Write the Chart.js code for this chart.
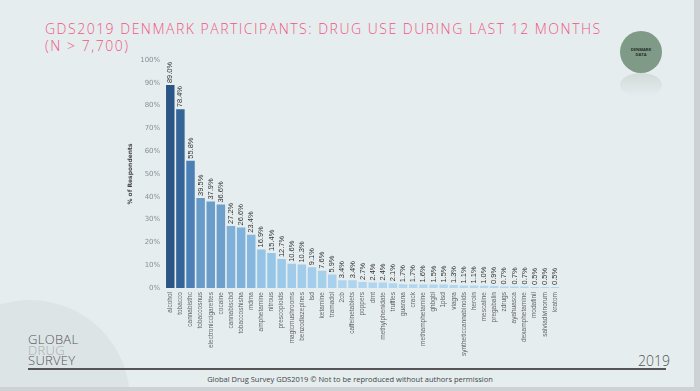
<!DOCTYPE html>
<html><head><meta charset="utf-8">
<script src="https://cdn.jsdelivr.net/npm/chart.js@4"></script>
<style>
html,body{margin:0;padding:0;}
body{width:700px;height:391px;background:#e5edef;position:relative;overflow:hidden;font-family:"Open Sans",sans-serif;}
#wrap{position:absolute;left:0;top:0;width:700px;height:391px;}
.title{position:absolute;left:45px;top:20px;color:#f2557f;font-size:14px;font-weight:300;letter-spacing:1.5px;line-height:17px;}
.badge{position:absolute;left:620px;top:31px;width:42px;height:42px;border-radius:50%;background:#7f9a87;color:#1f2b24;font-size:4px;font-weight:700;text-align:center;display:flex;align-items:center;justify-content:center;line-height:5px;}
.refl{position:absolute;left:620px;top:73px;width:42px;height:24px;border-radius:50%;background:linear-gradient(#c9d3cf,rgba(229,237,239,0));opacity:.7;}
.bigc{position:absolute;left:-70px;top:300px;width:200px;height:200px;border-radius:50%;background:#dde4e6;}
.logo{position:absolute;left:28px;top:334px;font-size:13px;line-height:10.5px;letter-spacing:0.3px;font-weight:300;}
.logo div{color:#555;}
.logo .d{color:#a8adb0;}
.yr{position:absolute;left:638px;top:351px;font-size:14px;color:#555;font-weight:300;}
.line{position:absolute;left:28px;top:368px;width:638px;height:2px;background:#555;}
.foot{position:absolute;left:0;width:700px;top:374px;text-align:center;font-size:7.5px;color:#444;font-family:"Liberation Sans Narrow","Open Sans",sans-serif;}
.edge{position:absolute;left:694px;top:0;width:6px;height:391px;background:#cdd3d5;}
.bedge{position:absolute;left:0;top:387px;width:700px;height:4px;background:#cdd3d5;}
</style></head>
<body>
<div class="bigc"></div>
<div class="title">GDS2019 DENMARK PARTICIPANTS: DRUG USE DURING LAST 12 MONTHS<br>(N &gt; 7,700)</div>
<div class="refl"></div>
<div class="badge">DENMARK<br>DATA</div>
<div class="logo"><div>GLOBAL</div><div class="d">DRUG</div><div>SURVEY</div></div>
<div class="yr">2019</div>
<div class="line"></div>
<div class="foot">Global Drug Survey GDS2019 © Not to be reproduced without authors permission</div>
<div class="edge"></div><div class="bedge"></div>
<div id="wrap"><canvas id="c" width="700" height="391"></canvas></div>
<script>
const categories = ["alcohol","tobacco","cannabisthc","tobaccosnus","electroniccigarettes","cocaine","cannabiscbd","tobaccoshisha","mdma","amphetamine","nitrous","prescopioids","magicmushrooms","benzodiazepines","lsd","ketamine","tramadol","2cb","caffeinetablets","poppers","dmt","methylphenidate","truffles","guarana","crack","methamphetamine","ghbgbl","1plsd","viagra","syntheticcannabinoids","heroin","mescaline","pregabalin","zdrugs","ayahuasca","dexamphetamine","modafinil","salviadivinorum","kratom"];
const values = [89.0,78.4,55.8,39.5,37.9,36.6,27.2,26.6,23.4,16.9,15.4,12.7,10.6,10.3,9.1,7.6,5.9,3.4,3.4,2.7,2.4,2.4,2.1,1.7,1.7,1.6,1.5,1.5,1.3,1.1,1.1,1.0,0.9,0.7,0.7,0.7,0.5,0.5,0.5];
const yTicks = [0,10,20,30,40,50,60,70,80,90,100];

const stops = [[0,[180,216,241]],[15,[152,198,232]],[27,[126,176,218]],[38,[107,157,203]],[56,[75,127,181]],[78,[53,101,154]],[89,[42,85,132]]];
function colorFor(v){
  for(let i=1;i<stops.length;i++){
    if(v<=stops[i][0]){
      const a=stops[i-1],b=stops[i];const t=(v-a[0])/(b[0]-a[0]);
      const c=a[1].map((x,k)=>Math.round(x+(b[1][k]-x)*t));
      return `rgb(${c[0]},${c[1]},${c[2]})`;
    }
  }
  return 'rgb(42,85,132)';
}

const valueLabels = {
  id:'valueLabels',
  afterDatasetsDraw(chart){
    const ctx=chart.ctx;const meta=chart.getDatasetMeta(0);
    ctx.save();
    ctx.font='7.5px "Liberation Sans Narrow", sans-serif';
    ctx.fillStyle='#333';
    ctx.textAlign='left';ctx.textBaseline='middle';
    meta.data.forEach((bar,i)=>{
      ctx.save();
      ctx.translate(bar.x, bar.y-2);
      ctx.rotate(-Math.PI/2);
      ctx.fillText(values[i].toFixed(1)+'%',0,0);
      ctx.restore();
    });
    ctx.restore();
  }
};

new Chart(document.getElementById('c'),{
  type:'bar',
  data:{labels:categories,datasets:[{data:values,backgroundColor:values.map(colorFor),borderWidth:0,categoryPercentage:0.88,barPercentage:0.95}]},
  options:{
    responsive:false,animation:false,
    layout:{padding:{left:127,right:140,top:60,bottom:31}},
    plugins:{legend:{display:false},tooltip:{enabled:false}},
    scales:{
      x:{grid:{display:false,drawTicks:false},border:{display:false},
         ticks:{color:'#666',font:{size:6.5,family:'"Liberation Sans Narrow", sans-serif'},minRotation:90,maxRotation:90,autoSkip:false,padding:4}},
      y:{min:0,max:100,grid:{display:false,drawTicks:false},border:{display:false},
         afterBuildTicks(ax){ax.ticks=yTicks.map(v=>({value:v}));},
         ticks:{color:'#8a8f93',font:{size:7,family:'"DejaVu Sans", sans-serif'},padding:5,callback:v=>v+'%'},
         title:{display:true,text:'% of Respondents',color:'#444',font:{size:6,weight:'bold',family:'"DejaVu Sans", sans-serif'},padding:{top:0,bottom:1}}}
    }
  },
  plugins:[valueLabels]
});
</script>
</body></html>
